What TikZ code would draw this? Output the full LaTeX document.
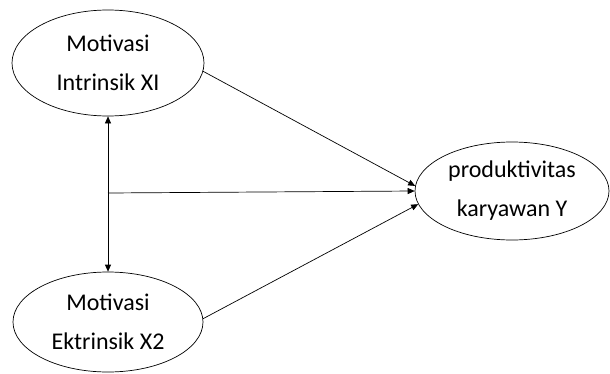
\documentclass[tikz,border=0pt]{standalone}
\usepackage{fontspec}
\setmainfont{Carlito}
\usetikzlibrary{
  arrows.meta,
  shapes.geometric,
}
\tikzset{
  >={Triangle[length=7pt,width=6pt]},
  var/.style={ellipse, draw, line width=0.7pt, inner sep=0pt, align=center,
    font=\fontsize{24}{39}\selectfont},
  path/.style={line width=0.7pt},
}

\begin{document}
\begin{tikzpicture}[x=1pt, y=1pt]
  \useasboundingbox (0, 0) rectangle (610, 373);

  \node [var, minimum width=192pt, minimum height=106pt] (x1) at (108, 310) {Motivasi\\Intrinsik XI};
  \node [var, minimum width=190pt, minimum height=100pt] (x2) at (108, 51) {Motivasi\\Ektrinsik X2};
  \node [var, minimum width=194pt, minimum height=98pt] (y) at (512, 182) {produktivitas\\karyawan Y};

  \coordinate (join) at (108, 180);

  \draw [path, <->] (x1.south) -- (x2.north);
  \draw [path, ->] (join) -- (y.west);
  \draw [path, ->] (x1.-5) -- (y.177);
  \draw [path, ->] (x2.2) -- (y.188);
\end{tikzpicture}
\end{document}
